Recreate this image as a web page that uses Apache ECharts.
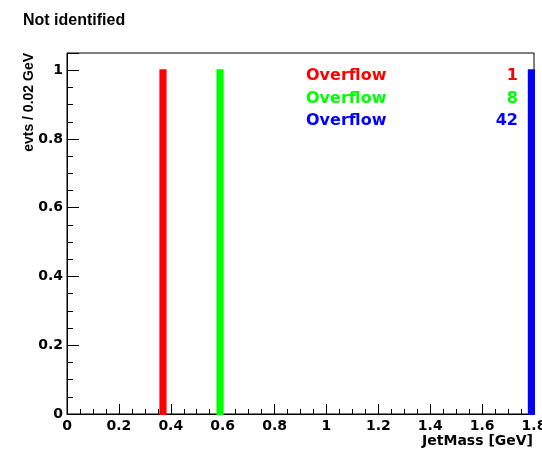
<!DOCTYPE html>
<html>
<head>
<meta charset="utf-8">
<script src="https://cdn.jsdelivr.net/npm/echarts@6/dist/echarts.min.js"></script>
<style>
html,body{margin:0;padding:0;background:#fff;}
#chart{width:542px;height:449px;}
</style>
</head>
<body>
<div id="chart"></div>
<script>
// Data
var titleText = "Not identified";
var xAxisTitle = "JetMass [GeV]";
var yAxisTitle = "evts / 0.02 GeV";
var binLow = [0.36, 0.58, 1.78];
var binHigh = [0.38, 0.60, 1.80];
var binCounts = [1, 1, 1];
var seriesColors = ["#ff0000", "#00ff00", "#0000ff"];
var overflowLabels = ["Overflow", "Overflow", "Overflow"];
var overflowCounts = [1, 8, 42];

var chart = echarts.init(document.getElementById('chart'), null, {renderer: 'canvas'});

var series = binLow.map(function (lo, i) {
  return {
    type: 'custom',
    name: 'h' + i,
    data: [[lo, binHigh[i], binCounts[i]]],
    renderItem: function (params, api) {
      var p0 = api.coord([api.value(0), 0]);
      var p1 = api.coord([api.value(1), api.value(2)]);
      return {
        type: 'rect',
        shape: {x: p0[0], y: p1[1], width: p1[0] - p0[0], height: p0[1] - p1[1]},
        style: {fill: seriesColors[i], stroke: seriesColors[i], lineWidth: 2}
      };
    },
    silent: true,
    z: 3
  };
});

var graphics = [
  {type: 'text', left: 23, top: 13, style: {text: titleText, font: 'bold 16px "Liberation Sans", Arial, sans-serif', fill: '#000'}},
  {type: 'text', x: 533, y: 441, style: {text: xAxisTitle, font: 'bold 14px "DejaVu Sans", sans-serif', fill: '#000', align: 'right', verticalAlign: 'middle'}},
  {type: 'text', x: 29, y: 53, rotation: Math.PI / 2, style: {text: yAxisTitle, font: 'bold 14px "Liberation Sans", Arial, sans-serif', fill: '#000', align: 'right', verticalAlign: 'middle'}}
];
var legendY = [75, 98, 120];
overflowLabels.forEach(function (lab, i) {
  graphics.push({type: 'text', x: 306, y: legendY[i] + 1, style: {text: lab, font: 'bold 16px "DejaVu Sans", sans-serif', fill: seriesColors[i], align: 'left', verticalAlign: 'middle'}});
  graphics.push({type: 'text', x: 518, y: legendY[i] + 1, style: {text: String(overflowCounts[i]), font: 'bold 16px "DejaVu Sans", sans-serif', fill: seriesColors[i], align: 'right', verticalAlign: 'middle'}});
});

var axisFont = {fontFamily: '"DejaVu Sans", sans-serif', fontWeight: 'bold', fontSize: 14, color: '#000'};

chart.setOption({
  animation: false,
  backgroundColor: '#fff',
  grid: {left: 67, right: 8, top: 53, bottom: 35, containLabel: false, outerBoundsMode: 'none', show: true, borderColor: '#000', borderWidth: 1, backgroundColor: 'transparent'},
  xAxis: {
    type: 'value', min: 0, max: 1.8, interval: 0.2,
    axisLine: {show: true, onZero: false, lineStyle: {color: '#000', width: 1}},
    axisTick: {show: true, inside: true, length: 10, lineStyle: {color: '#000'}},
    minorTick: {show: true, splitNumber: 4, length: 5, lineStyle: {color: '#000'}},
    splitLine: {show: false},
    axisLabel: Object.assign({margin: 5, formatter: function (v) { return String(Math.round(v * 10) / 10); }}, axisFont)
  },
  yAxis: {
    type: 'value', min: 0, max: 1.05, interval: 0.2,
    axisLine: {show: true, onZero: false, lineStyle: {color: '#000', width: 1}},
    axisTick: {show: true, inside: true, length: 12, lineStyle: {color: '#000'}},
    minorTick: {show: true, splitNumber: 4, length: 6, lineStyle: {color: '#000'}},
    splitLine: {show: false},
    axisLabel: Object.assign({margin: 4, showMaxLabel: false, formatter: function (v) { return v > 1.001 ? '' : String(Math.round(v * 10) / 10); }}, axisFont)
  },
  graphic: graphics,
  series: series
});
</script>
</body>
</html>
